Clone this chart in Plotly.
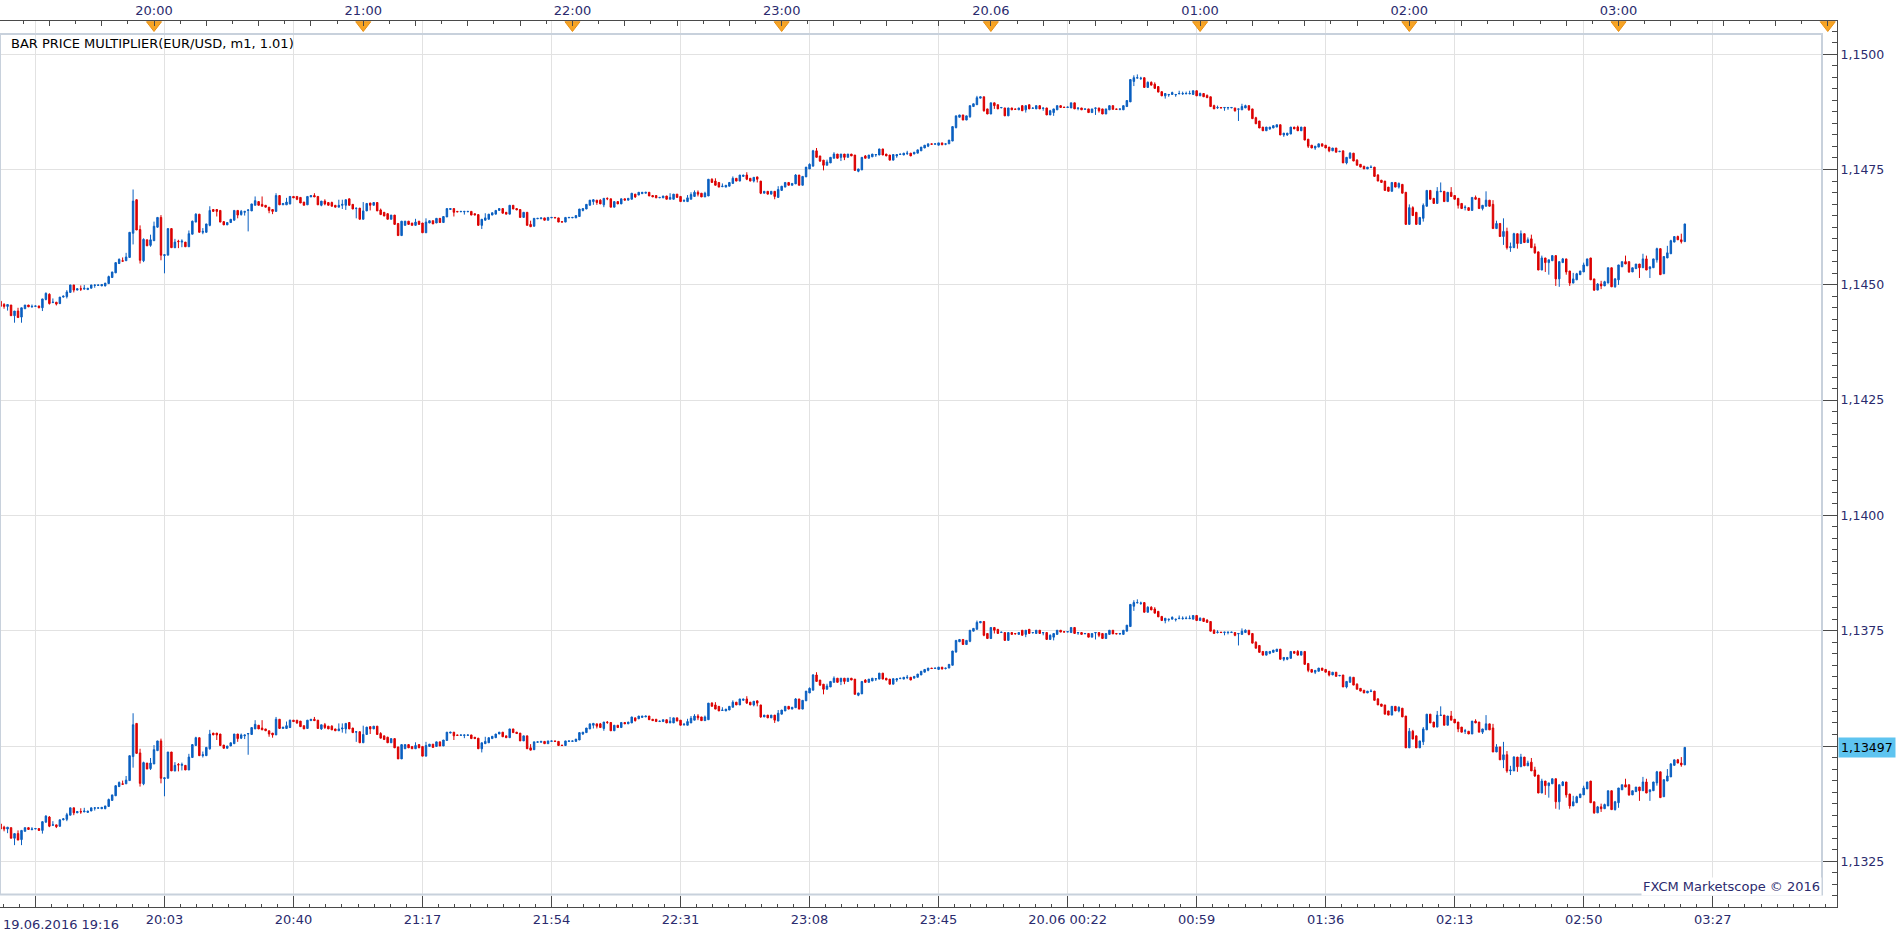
import pandas as pd
import plotly.graph_objects as go

# ---------------- data (EUR/USD, 1-minute bars, values in pips above 1.1300) ----------------
BASE = 1.1300
PIP = 0.0001
MULTIPLIER = 1.01          # "BAR PRICE MULTIPLIER(EUR/USD, m1, 1.01)"
FIRST_BAR = "2016-06-19 19:16"

open_pips = [
    33.1, 32.4, 32.0, 32.3, 30.0, 31.0, 29.7, 31.5, 32.3, 31.9, 32.0, 32.1, 31.7, 33.5, 34.6, 32.8, 32.9, 32.6, 34.0, 34.1,
    35.0, 36.6, 35.5, 35.8, 35.7, 35.6, 35.9, 36.5, 36.5, 36.4, 36.4, 36.9, 38.2, 39.2, 41.2, 41.8, 41.8, 42.5, 47.7, 54.9,
    48.5, 41.8, 46.3, 45.1, 46.1, 49.0, 51.1, 42.9, 43.0, 48.7, 44.6, 46.0, 45.8, 45.8, 44.8, 47.5, 50.1, 51.8, 47.9, 47.9,
    49.4, 52.8, 52.8, 52.6, 50.2, 49.5, 50.0, 50.5, 52.6, 51.7, 52.2, 52.6, 52.5, 53.7, 54.5, 53.9, 53.7, 53.3, 52.8, 52.4,
    55.8, 53.8, 53.8, 54.0, 55.6, 55.6, 55.4, 54.4, 53.8, 55.5, 55.8, 55.6, 53.7, 54.6, 54.3, 54.3, 53.7, 53.3, 53.7, 53.7,
    55.1, 53.9, 53.0, 53.1, 50.7, 52.5, 54.2, 53.7, 54.3, 52.7, 52.2, 51.9, 50.7, 51.6, 49.8, 47.2, 49.4, 50.3, 49.9, 49.4,
    50.3, 49.9, 47.8, 49.9, 50.4, 49.9, 50.9, 50.0, 51.2, 52.8, 53.0, 52.4, 52.3, 52.3, 52.3, 52.4, 51.9, 51.7, 49.4, 50.5,
    50.7, 51.6, 51.8, 52.6, 53.0, 52.2, 51.8, 53.7, 53.0, 52.8, 51.1, 52.2, 49.6, 49.2, 50.8, 50.8, 51.0, 50.5, 51.0, 51.1,
    51.0, 50.2, 50.1, 51.0, 51.0, 51.0, 51.3, 52.6, 52.9, 53.7, 54.5, 54.8, 54.8, 53.8, 55.2, 55.1, 53.3, 54.5, 54.0, 55.1,
    54.8, 55.0, 56.1, 55.9, 56.2, 56.3, 56.5, 55.8, 55.8, 55.3, 55.3, 55.7, 55.0, 55.0, 56.1, 55.6, 54.6, 54.5, 55.0, 55.6,
    56.5, 56.3, 55.5, 55.7, 59.3, 58.9, 58.6, 57.7, 57.6, 57.8, 58.4, 59.5, 58.9, 59.9, 60.2, 59.5, 58.9, 59.8, 58.9, 56.3,
    56.7, 56.1, 56.7, 55.4, 56.9, 57.6, 58.6, 58.0, 58.3, 60.2, 58.0, 59.8, 61.5, 62.1, 65.4, 64.3, 63.4, 62.3, 62.8, 63.8,
    64.7, 64.0, 64.7, 64.0, 64.7, 64.5, 61.0, 61.3, 64.3, 63.8, 64.1, 64.5, 64.5, 65.8, 64.7, 64.5, 63.4, 64.3, 64.6, 64.5,
    64.8, 64.9, 64.7, 64.9, 65.4, 66.0, 66.4, 66.9, 66.8, 66.6, 67.1, 66.8, 66.9, 67.5, 70.4, 72.6, 73.1, 72.0, 72.7, 74.9,
    75.3, 76.7, 77.0, 74.4, 73.3, 75.7, 75.3, 74.6, 74.6, 72.9, 74.6, 74.4, 74.2, 75.1, 74.2, 75.3, 74.5, 74.4, 75.1, 74.5,
    74.6, 73.1, 73.6, 74.2, 75.1, 74.8, 74.7, 74.6, 75.7, 74.5, 74.6, 74.3, 74.4, 73.6, 74.5, 74.6, 74.4, 73.3, 74.2, 75.1,
    74.4, 74.3, 74.2, 74.9, 75.9, 80.3, 81.0, 80.9, 81.1, 79.0, 80.1, 79.7, 79.2, 78.1, 77.2, 77.4, 77.5, 77.4, 77.6, 77.6,
    77.6, 77.6, 77.5, 78.3, 77.2, 77.7, 77.3, 77.0, 75.1, 74.6, 74.7, 74.6, 74.6, 74.6, 74.6, 74.3, 74.2, 74.6, 75.1, 74.4,
    72.5, 71.8, 70.5, 69.7, 70.1, 70.3, 70.5, 71.0, 68.8, 68.8, 69.0, 70.5, 70.5, 69.7, 70.5, 67.9, 66.6, 66.0, 66.2, 66.9,
    66.6, 66.2, 65.4, 66.0, 65.2, 65.4, 62.8, 63.8, 64.9, 63.4, 62.5, 62.1, 61.5, 61.8, 61.9, 60.2, 59.1, 58.9, 57.6, 56.7,
    58.6, 57.6, 58.2, 56.5, 49.6, 53.2, 52.2, 49.6, 50.9, 53.5, 56.9, 55.2, 54.1, 56.6, 56.7, 54.5, 56.5, 55.8, 55.2, 54.1,
    53.2, 53.2, 52.6, 55.4, 55.2, 53.0, 53.5, 54.8, 53.9, 48.7, 49.8, 47.0, 48.1, 44.6, 44.6, 47.6, 45.5, 47.6, 45.7, 46.5,
    44.8, 43.7, 39.8, 42.4, 41.4, 41.8, 42.9, 37.9, 41.4, 42.2, 39.6, 37.0, 37.7, 38.8, 39.4, 40.7, 42.4, 37.9, 35.5, 36.8,
    36.4, 37.0, 40.3, 36.2, 37.7, 40.5, 41.6, 41.6, 39.4, 40.1, 41.1, 40.3, 42.2, 40.1, 40.3, 42.0, 44.4, 39.0, 42.4, 43.3,
    45.8, 47.0, 46.3, 45.9,
]

high_pips = [
    33.1, 32.7, 32.4, 32.3, 31.0, 31.7, 31.7, 32.3, 32.3, 32.4, 32.1, 32.1, 33.6, 35.0, 34.8, 33.7, 32.9, 34.0, 34.3, 35.5,
    36.6, 36.6, 35.8, 36.5, 36.6, 35.9, 36.6, 36.6, 36.6, 36.7, 37.0, 38.6, 39.4, 41.4, 42.3, 42.5, 43.5, 47.9, 57.1, 54.9,
    49.4, 46.6, 46.3, 47.4, 50.2, 51.1, 51.6, 43.1, 48.7, 48.7, 46.5, 46.3, 46.4, 45.8, 48.3, 50.4, 52.0, 51.8, 48.8, 49.7,
    53.5, 52.8, 52.8, 52.6, 50.2, 50.0, 50.7, 52.6, 52.6, 52.7, 52.4, 52.8, 54.0, 55.6, 54.5, 55.6, 53.7, 53.3, 52.8, 56.3,
    55.8, 54.1, 55.3, 55.7, 55.6, 55.6, 55.4, 54.4, 55.6, 55.8, 56.3, 55.6, 54.6, 55.0, 54.3, 54.5, 53.7, 54.9, 54.9, 54.9,
    55.1, 53.9, 53.1, 53.1, 54.4, 54.1, 54.2, 54.3, 54.3, 53.0, 52.2, 52.0, 51.6, 51.6, 49.8, 50.3, 50.3, 50.3, 49.9, 50.8,
    50.3, 49.9, 50.9, 50.4, 50.4, 50.9, 50.9, 51.3, 53.0, 53.0, 53.0, 52.4, 52.4, 52.4, 52.4, 52.4, 51.9, 51.7, 50.7, 52.0,
    51.8, 52.1, 52.6, 53.0, 53.0, 52.2, 53.7, 53.7, 53.0, 52.8, 52.2, 52.2, 50.4, 50.9, 50.9, 51.0, 51.0, 51.1, 51.1, 51.1,
    51.0, 50.2, 51.1, 51.1, 51.1, 51.5, 52.9, 53.0, 53.9, 54.8, 55.0, 54.8, 55.0, 55.2, 55.4, 55.1, 54.5, 54.5, 55.1, 55.1,
    55.2, 56.3, 56.1, 56.5, 56.5, 56.5, 56.5, 55.8, 55.8, 55.4, 55.7, 55.7, 56.3, 56.1, 56.1, 55.6, 55.0, 55.9, 56.5, 56.9,
    56.9, 56.3, 56.6, 59.3, 59.5, 59.5, 58.6, 58.4, 58.0, 58.6, 59.9, 59.5, 60.2, 60.2, 60.8, 59.5, 59.7, 59.8, 58.9, 56.7,
    56.7, 56.7, 56.7, 57.8, 57.8, 58.6, 58.6, 58.4, 60.4, 60.2, 59.9, 61.9, 62.7, 65.6, 66.0, 64.3, 63.4, 63.5, 64.0, 65.1,
    64.7, 64.7, 64.7, 64.7, 64.7, 64.5, 61.5, 64.0, 64.5, 64.5, 64.7, 64.6, 65.8, 65.8, 64.7, 64.5, 64.6, 64.6, 64.7, 64.9,
    65.4, 64.9, 65.1, 65.6, 66.2, 66.6, 66.9, 66.9, 66.9, 67.1, 67.1, 66.9, 67.7, 70.6, 72.9, 73.1, 73.1, 72.9, 75.1, 75.5,
    77.2, 77.0, 77.0, 74.4, 75.7, 75.7, 75.3, 74.7, 74.6, 74.6, 74.6, 74.4, 74.6, 75.1, 75.1, 75.3, 74.6, 75.1, 75.1, 74.6,
    74.6, 74.2, 74.4, 75.1, 75.1, 74.8, 74.8, 75.7, 75.7, 74.6, 74.6, 74.4, 74.4, 74.4, 74.6, 74.6, 74.4, 74.4, 75.1, 75.1,
    74.4, 74.4, 75.1, 76.2, 80.7, 81.6, 81.8, 81.3, 81.1, 80.3, 80.3, 80.1, 79.2, 78.1, 77.7, 77.5, 78.1, 77.5, 78.3, 78.1,
    78.1, 78.3, 78.3, 78.3, 77.9, 77.7, 77.5, 77.0, 75.3, 75.1, 74.7, 74.7, 74.7, 74.7, 74.6, 74.4, 75.5, 75.3, 75.1, 74.4,
    72.7, 71.8, 70.5, 70.5, 70.5, 70.8, 71.0, 71.0, 69.2, 69.2, 70.5, 70.5, 70.8, 70.5, 70.5, 67.9, 66.6, 66.4, 66.9, 66.9,
    66.6, 66.2, 66.0, 66.0, 65.3, 65.4, 64.0, 65.1, 64.9, 63.6, 62.5, 62.1, 61.9, 62.3, 61.9, 60.4, 59.1, 58.9, 57.6, 58.6,
    58.6, 58.6, 58.2, 56.5, 53.9, 53.5, 52.2, 51.1, 54.1, 56.9, 56.9, 55.2, 57.6, 58.6, 56.7, 56.5, 57.6, 55.8, 55.2, 54.1,
    53.7, 53.2, 55.4, 55.8, 55.2, 53.7, 56.7, 54.8, 54.8, 50.4, 49.8, 50.9, 48.9, 45.7, 47.8, 47.6, 48.3, 47.6, 46.8, 47.4,
    45.5, 43.7, 42.9, 42.4, 42.0, 42.9, 42.9, 41.6, 42.4, 42.2, 39.6, 39.2, 39.2, 39.6, 41.4, 42.2, 42.4, 37.9, 37.0, 37.5,
    37.5, 40.3, 40.3, 38.1, 40.9, 41.6, 42.9, 41.6, 40.3, 41.1, 41.1, 43.3, 42.9, 40.5, 42.2, 44.6, 44.4, 42.7, 45.0, 46.3,
    47.0, 47.2, 47.6, 49.7,
]

low_pips = [
    32.0, 31.5, 31.1, 30.0, 28.5, 29.6, 28.5, 31.5, 31.9, 31.7, 32.0, 31.6, 31.0, 33.3, 32.4, 32.8, 32.2, 32.5, 33.9, 33.7,
    35.0, 35.0, 35.5, 35.3, 35.7, 35.6, 35.9, 36.0, 36.5, 36.4, 36.3, 36.8, 38.2, 39.2, 41.1, 41.7, 41.8, 42.5, 45.3, 48.4,
    41.2, 41.5, 45.0, 44.8, 46.1, 48.9, 41.9, 39.1, 43.0, 44.6, 44.5, 44.5, 44.7, 44.8, 44.8, 47.5, 50.1, 47.9, 47.5, 47.9,
    49.2, 52.4, 51.3, 50.1, 49.5, 49.5, 50.0, 50.5, 50.9, 51.5, 51.5, 48.1, 52.5, 53.7, 53.7, 53.5, 53.3, 52.0, 51.8, 52.4,
    53.8, 53.8, 53.8, 53.9, 55.3, 54.8, 54.2, 53.7, 53.8, 55.5, 55.5, 53.8, 53.5, 53.7, 53.7, 53.5, 53.3, 53.3, 52.9, 52.7,
    53.7, 52.9, 50.9, 50.7, 50.7, 52.5, 52.6, 53.7, 52.5, 51.7, 51.4, 50.7, 50.7, 49.6, 47.2, 47.2, 49.4, 49.6, 49.4, 49.4,
    49.6, 47.8, 47.8, 49.9, 49.7, 49.9, 50.0, 50.0, 51.2, 52.8, 51.3, 52.3, 52.3, 51.7, 52.3, 51.6, 51.6, 49.4, 48.6, 50.5,
    50.7, 51.6, 51.8, 52.6, 52.0, 51.8, 51.8, 52.9, 52.7, 51.1, 51.1, 49.4, 49.1, 49.2, 50.8, 50.8, 50.5, 50.5, 51.0, 51.0,
    50.1, 50.1, 50.1, 51.0, 51.0, 51.0, 51.3, 52.4, 52.9, 53.7, 53.8, 53.8, 54.0, 53.3, 54.8, 53.3, 53.3, 54.0, 54.0, 54.8,
    54.8, 55.0, 55.3, 55.9, 56.2, 56.3, 55.7, 55.5, 55.3, 55.3, 55.3, 55.0, 55.0, 55.0, 55.4, 54.5, 54.4, 54.5, 55.0, 55.6,
    55.6, 55.5, 55.5, 55.7, 58.6, 58.0, 57.6, 57.6, 57.6, 57.8, 58.4, 58.9, 58.9, 59.9, 59.1, 58.9, 58.6, 58.6, 56.1, 56.3,
    56.1, 56.1, 55.0, 55.4, 56.9, 57.6, 58.0, 58.0, 58.3, 58.0, 58.0, 59.8, 61.5, 62.1, 64.0, 63.0, 61.2, 62.3, 62.8, 63.8,
    63.8, 63.2, 63.4, 64.0, 64.3, 61.2, 60.8, 61.3, 63.8, 63.8, 64.1, 64.1, 64.5, 64.5, 64.3, 63.4, 63.4, 63.9, 64.6, 64.5,
    64.5, 64.3, 64.7, 64.9, 65.4, 66.0, 66.2, 66.8, 66.8, 66.6, 66.6, 66.6, 66.9, 67.5, 70.2, 72.6, 72.0, 72.0, 72.5, 74.9,
    75.3, 76.7, 73.8, 73.3, 73.3, 74.4, 74.4, 74.6, 72.9, 72.9, 74.2, 74.3, 74.2, 74.0, 73.6, 74.4, 74.5, 74.4, 74.4, 74.0,
    73.1, 73.1, 72.9, 74.2, 74.7, 74.7, 74.7, 74.6, 74.4, 74.1, 74.2, 74.3, 73.6, 73.6, 73.1, 73.6, 73.3, 73.3, 74.2, 74.3,
    74.3, 74.1, 74.2, 74.9, 75.9, 79.3, 81.0, 80.6, 79.0, 79.0, 79.5, 78.8, 78.0, 77.2, 76.6, 77.0, 77.5, 77.0, 77.6, 77.4,
    77.6, 77.6, 77.5, 77.2, 77.2, 77.0, 76.8, 74.9, 74.4, 74.4, 74.6, 74.0, 74.2, 74.6, 73.8, 71.8, 74.2, 74.6, 74.0, 72.3,
    71.2, 70.3, 69.7, 69.7, 69.9, 70.3, 70.5, 68.8, 68.4, 68.6, 69.0, 70.1, 69.7, 69.7, 67.7, 66.0, 66.0, 65.6, 66.2, 66.4,
    66.0, 65.1, 65.4, 65.1, 65.2, 62.8, 62.5, 63.8, 63.2, 62.3, 61.9, 61.5, 61.5, 61.8, 59.9, 58.9, 58.6, 56.9, 56.7, 56.7,
    57.6, 57.3, 56.3, 49.6, 49.6, 51.5, 49.6, 49.6, 50.2, 53.5, 55.0, 54.1, 54.1, 56.6, 54.5, 54.5, 55.6, 55.0, 53.0, 53.0,
    52.6, 52.6, 52.6, 55.0, 53.0, 52.6, 53.5, 53.5, 48.7, 48.7, 47.0, 45.2, 44.2, 43.7, 44.6, 44.4, 45.5, 45.7, 45.7, 44.6,
    43.3, 39.8, 39.8, 39.4, 38.8, 41.8, 36.4, 36.2, 41.4, 38.8, 36.4, 37.0, 37.7, 38.8, 39.4, 40.7, 37.7, 35.3, 35.5, 35.7,
    36.4, 37.0, 36.2, 36.0, 36.6, 40.5, 41.1, 39.2, 39.4, 40.1, 38.1, 40.3, 39.8, 38.1, 40.3, 41.4, 38.8, 39.0, 42.4, 43.3,
    45.8, 46.3, 45.5, 45.9,
]

close_pips = [
    32.0, 32.0, 32.4, 30.0, 31.0, 29.6, 31.7, 32.3, 31.9, 32.0, 32.1, 31.7, 33.6, 34.8, 32.6, 32.9, 32.5, 34.0, 34.2, 35.1,
    36.6, 35.5, 35.8, 35.7, 35.9, 35.9, 36.6, 36.6, 36.6, 36.7, 37.0, 38.4, 39.4, 41.4, 42.1, 41.7, 42.6, 47.9, 54.6, 48.4,
    41.9, 46.4, 45.0, 46.3, 49.2, 51.1, 43.0, 43.1, 48.7, 44.6, 45.8, 45.9, 46.0, 44.8, 47.6, 50.3, 51.8, 47.9, 48.1, 49.7,
    52.6, 52.4, 52.4, 50.1, 49.5, 50.0, 50.7, 52.6, 51.6, 52.4, 52.4, 52.7, 54.0, 54.7, 53.7, 53.5, 53.3, 52.6, 52.4, 55.8,
    53.8, 54.1, 54.4, 55.6, 55.3, 55.0, 54.2, 53.7, 55.6, 55.8, 55.5, 53.8, 54.6, 54.0, 53.7, 53.5, 53.3, 53.7, 53.9, 54.9,
    53.7, 52.9, 53.1, 50.7, 52.5, 54.1, 53.7, 54.3, 52.5, 51.7, 51.4, 50.7, 51.6, 49.6, 47.2, 50.3, 50.3, 49.6, 49.4, 50.1,
    49.6, 47.8, 50.1, 50.4, 49.7, 50.9, 50.0, 51.3, 53.0, 53.0, 52.2, 52.3, 52.4, 52.4, 52.4, 51.6, 51.6, 49.4, 50.7, 51.0,
    51.8, 52.1, 52.6, 53.0, 52.0, 51.8, 53.7, 52.9, 52.7, 51.1, 52.2, 49.4, 49.1, 50.9, 50.9, 51.0, 50.5, 51.1, 51.1, 51.0,
    50.1, 50.1, 51.1, 51.1, 51.1, 51.5, 52.9, 53.0, 53.9, 54.8, 54.9, 54.3, 54.0, 55.2, 55.1, 53.3, 54.5, 54.0, 55.1, 54.8,
    55.2, 56.3, 55.5, 56.5, 56.5, 56.5, 55.7, 55.5, 55.3, 55.4, 55.7, 55.0, 55.4, 56.1, 55.4, 54.5, 54.7, 55.3, 56.0, 56.5,
    56.1, 55.5, 56.3, 59.3, 58.6, 58.0, 57.6, 57.8, 58.0, 58.6, 59.5, 58.9, 60.2, 60.2, 59.3, 58.9, 59.7, 59.3, 56.3, 56.7,
    56.1, 56.7, 55.6, 57.1, 57.8, 58.6, 58.0, 58.4, 60.2, 58.0, 59.9, 61.9, 62.5, 65.4, 64.0, 63.2, 62.3, 63.0, 64.0, 64.7,
    63.8, 64.7, 64.0, 64.7, 64.3, 61.2, 61.5, 64.0, 63.8, 64.5, 64.7, 64.6, 65.8, 64.5, 64.3, 63.4, 64.6, 64.6, 64.7, 64.9,
    64.9, 64.3, 65.1, 65.6, 66.2, 66.6, 66.9, 66.8, 66.9, 67.1, 66.7, 66.9, 67.7, 70.6, 72.9, 73.1, 72.0, 72.9, 75.1, 75.5,
    76.8, 77.0, 74.0, 73.3, 75.7, 75.1, 74.4, 74.7, 72.9, 74.6, 74.2, 74.3, 74.6, 74.0, 75.1, 74.4, 74.6, 75.1, 74.4, 74.6,
    73.1, 74.0, 74.4, 75.1, 74.7, 74.7, 74.8, 75.7, 74.4, 74.6, 74.2, 74.4, 73.6, 74.4, 74.6, 74.0, 73.3, 74.4, 75.1, 74.3,
    74.3, 74.4, 75.1, 76.2, 80.7, 81.1, 81.1, 81.0, 79.0, 80.1, 79.5, 78.8, 78.0, 77.2, 77.7, 77.5, 77.9, 77.5, 77.7, 77.7,
    77.7, 77.7, 78.3, 77.2, 77.7, 77.0, 76.8, 74.9, 74.4, 74.7, 74.6, 74.7, 74.7, 74.7, 74.0, 74.4, 74.9, 75.1, 74.2, 72.3,
    71.2, 70.3, 69.7, 70.5, 70.5, 70.8, 71.0, 68.8, 69.2, 69.2, 70.5, 70.1, 69.7, 70.5, 67.7, 66.4, 66.0, 66.4, 66.9, 66.4,
    66.0, 65.4, 66.0, 65.1, 65.3, 62.8, 64.0, 64.9, 63.2, 62.3, 61.9, 61.5, 61.9, 61.9, 59.9, 58.9, 58.6, 56.9, 56.7, 58.6,
    57.6, 58.4, 56.3, 49.6, 53.2, 51.5, 49.6, 51.1, 53.7, 56.9, 55.0, 54.1, 56.7, 56.7, 54.5, 56.5, 55.6, 55.0, 53.7, 53.0,
    53.3, 52.6, 55.4, 55.0, 53.0, 53.7, 54.8, 53.5, 48.7, 49.8, 47.0, 48.1, 44.6, 44.8, 47.6, 45.5, 47.6, 45.7, 46.3, 44.6,
    43.5, 39.8, 42.4, 41.4, 42.0, 42.9, 37.9, 41.6, 42.2, 39.4, 37.0, 37.9, 39.0, 39.6, 40.9, 42.2, 37.7, 35.5, 36.8, 36.4,
    37.3, 40.3, 36.2, 37.9, 40.9, 41.6, 41.1, 39.4, 40.3, 41.1, 40.3, 42.2, 39.8, 40.5, 42.2, 44.4, 38.8, 42.7, 43.5, 46.1,
    47.0, 46.3, 45.9, 49.7,
]

# axis labels (1,1350 is hidden behind the current-price label in the reference)
y_tick_vals = [1.1325, 1.1350, 1.1375, 1.1400, 1.1425, 1.1450, 1.1475, 1.1500]
y_tick_text = ["1,1325", "", "1,1375", "1,1400", "1,1425", "1,1450", "1,1475", "1,1500"]
bottom_tick_text = ["", "20:03", "20:40", "21:17", "21:54", "22:31", "23:08", "23:45",
                    "20.06 00:22", "00:59", "01:36", "02:13", "02:50", "03:27"]
top_hour_text = ["20:00", "21:00", "22:00", "23:00", "20.06", "01:00", "02:00", "03:00", ""]
first_label = "19.06.2016 19:16"
title_text = "BAR PRICE MULTIPLIER(EUR/USD, m1, 1.01)"
credit_text = "FXCM Marketscope \u00a9 2016"

# ---------------- geometry / style ----------------
W, H = 1903, 937
PL, PR, PT, PB = 0, 1837, 21, 907          # plot area in pixels
X_RANGE = ["2016-06-19 19:15:50", "2016-06-20 04:02:39"]
Y_RANGE = [1.131509, 1.150720]

BLUE = "#0a5fc0"
RED = "#dc0000"
AXIS = "#4a4a4a"
GRID = "#e2e2e2"
TXT = "#2b2b6e"
FONT = "DejaVu Sans"


def px_x(p):
    return (p - PL) / (PR - PL)


def px_y(p):
    return (PB - p) / (PB - PT)


n = len(close_pips)
times = pd.date_range(FIRST_BAR, periods=n, freq="min")


def prices(lst, k=1.0):
    return [round((BASE + v * PIP) * k, 6) for v in lst]


o, h, l, c = prices(open_pips), prices(high_pips), prices(low_pips), prices(close_pips)
o2, h2, l2, c2 = (prices(open_pips, MULTIPLIER), prices(high_pips, MULTIPLIER),
                  prices(low_pips, MULTIPLIER), prices(close_pips, MULTIPLIER))

style = dict(
    increasing=dict(line=dict(color=BLUE, width=1), fillcolor=BLUE),
    decreasing=dict(line=dict(color=RED, width=1), fillcolor=RED),
    whiskerwidth=0, showlegend=False, hoverinfo="skip",
)

fig = go.Figure()
fig.add_trace(go.Candlestick(x=times, open=o2, high=h2, low=l2, close=c2, name="x1.01", **style))
fig.add_trace(go.Candlestick(x=times, open=o, high=h, low=l, close=c, name="EUR/USD", **style))

# hour markers (orange triangles on the top time scale)
hour_marks = pd.date_range("2016-06-19 20:00", periods=len(top_hour_text), freq="h")
fig.add_trace(go.Scatter(
    x=hour_marks, y=[px_y(25.0)] * len(hour_marks), xaxis="x2", yaxis="y3",
    mode="markers", hoverinfo="skip", showlegend=False, cliponaxis=False,
    marker=dict(symbol="triangle-down", size=13, color="#f7a424",
                line=dict(color="#e88f12", width=1)),
))

bottom_ticks = pd.date_range("2016-06-19 19:26", periods=len(bottom_tick_text), freq="37min")
quarter_ticks = pd.date_range("2016-06-19 19:30", "2016-06-20 04:00", freq="15min")
hour_lookup = {t: s for t, s in zip(hour_marks, top_hour_text)}
quarter_text = [hour_lookup.get(t, "") for t in quarter_ticks]

fig.update_layout(
    width=W, height=H, autosize=False,
    margin=dict(l=PL, r=W - PR, t=PT, b=H - PB, pad=0),
    paper_bgcolor="white", plot_bgcolor="white",
    separators=",.",
    boxgap=0.4, boxmode="overlay",
    hovermode=False, dragmode=False,
    font=dict(family=FONT, size=13, color=TXT),
    xaxis=dict(
        type="date", range=X_RANGE, rangeslider=dict(visible=False),
        tickmode="array", tickvals=bottom_ticks, ticktext=bottom_tick_text,
        ticks="inside", ticklen=11, tickwidth=1, tickcolor=AXIS,
        showline=True, linecolor=AXIS, linewidth=1,
        showgrid=True, gridcolor=GRID, gridwidth=1, zeroline=False,
        tickfont=dict(family=FONT, size=13, color=TXT),
        minor=dict(ticks="inside", ticklen=3, tickwidth=1, tickcolor=AXIS,
                   tickmode="linear", tick0="2016-06-19 19:26", dtick=277500, showgrid=False),
        fixedrange=True,
    ),
    xaxis2=dict(
        type="date", range=X_RANGE, overlaying="x", side="top", anchor="y3",
        tickmode="array", tickvals=quarter_ticks, ticktext=quarter_text,
        ticks="inside", ticklen=5, tickwidth=1, tickcolor=AXIS,
        showline=True, linecolor=AXIS, linewidth=1,
        showgrid=False, zeroline=False,
        tickfont=dict(family=FONT, size=13, color=TXT),
        minor=dict(ticks="inside", ticklen=3, tickwidth=1, tickcolor=AXIS,
                   tickmode="linear", tick0="2016-06-19 19:22:30", dtick=450000, showgrid=False),
        fixedrange=True,
    ),
    yaxis=dict(
        side="right", range=Y_RANGE,
        tickmode="array", tickvals=y_tick_vals, ticktext=y_tick_text,
        ticks="inside", ticklen=14, tickwidth=1, tickcolor=AXIS,
        showline=True, linecolor=AXIS, linewidth=1,
        showgrid=True, gridcolor=GRID, gridwidth=1, zeroline=False,
        tickfont=dict(family=FONT, size=12.5, color=TXT),
        minor=dict(ticks="inside", ticklen=5, tickwidth=1, tickcolor=AXIS,
                   tickmode="linear", tick0=1.1325, dtick=0.00025, showgrid=False),
        fixedrange=True,
    ),
    yaxis3=dict(overlaying="y", range=[0, 1], visible=False, fixedrange=True),
)

# masks so that the grid stays inside the chart frame, then the frame itself
shapes = [
    dict(type="rect", xref="paper", yref="paper", layer="between",
         x0=px_x(1823.5), x1=px_x(1836.5), y0=0, y1=1, fillcolor="white", line=dict(width=0)),
    dict(type="rect", xref="paper", yref="paper", layer="between",
         x0=0, x1=px_x(1836.5), y0=px_y(33), y1=px_y(21.5), fillcolor="white", line=dict(width=0)),
    dict(type="rect", xref="paper", yref="paper", layer="between",
         x0=0, x1=px_x(1836.5), y0=px_y(906.5), y1=px_y(895.5), fillcolor="white", line=dict(width=0)),
    dict(type="rect", xref="paper", yref="paper", layer="above",
         x0=px_x(0), x1=px_x(1822), y0=px_y(894.5), y1=px_y(34),
         line=dict(color="#c8d1dc", width=2), fillcolor="rgba(0,0,0,0)"),
]
fig.update_layout(shapes=shapes)

last_price = c[-1]
annotations = [
    dict(text=title_text, xref="paper", yref="paper", x=px_x(9), y=px_y(43.5),
         xanchor="left", yanchor="middle", showarrow=False,
         font=dict(family=FONT, size=13, color="#000000")),
    dict(text=first_label, xref="paper", yref="paper", x=px_x(0.5), y=px_y(924),
         xanchor="left", yanchor="middle", showarrow=False,
         font=dict(family=FONT, size=13, color=TXT)),
    dict(text=credit_text, xref="paper", yref="paper", x=px_x(1822), y=px_y(886),
         xanchor="right", yanchor="middle", showarrow=False, bgcolor="white",
         font=dict(family=FONT, size=13, color=TXT)),
    dict(text=f"{last_price:.5f}".replace(".", ","), xref="paper", yref="y",
         x=px_x(1837.5), y=last_price, xanchor="left", yanchor="middle",
         showarrow=False, bgcolor="#5ec4f0", borderpad=2,
         font=dict(family=FONT, size=12.5, color="#000000")),
]
fig.update_layout(annotations=annotations)

fig.write_html("out.html", config={"displayModeBar": False})
